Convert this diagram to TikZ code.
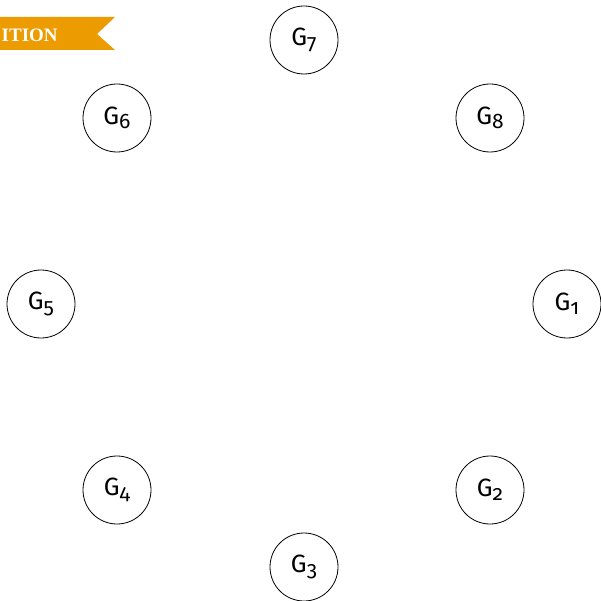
\documentclass[tikz,border=0pt]{standalone}
\usepackage{fontspec}
\setmainfont{Fira Sans}[Numbers=OldStyle]
\newfontfamily\bannerfont{Liberation Serif}
\definecolor{bannerorange}{RGB}{236,155,0}
\begin{document}
\begin{tikzpicture}[x=1pt,y=-1pt,
  gnode/.style={circle,draw=black,line width=0.8pt,minimum size=68pt,inner sep=0pt,font=\fontsize{25}{25}\selectfont},
  bannertext/.style={text=white,font=\bannerfont\bfseries\fontsize{19}{19}\selectfont,inner sep=0pt,anchor=base west}]
\useasboundingbox (0,0) rectangle (600,601);
\newcommand{\gsub}[1]{G{\fontsize{21}{21}\selectfont\raisebox{-4pt}{#1}}}
\fill[bannerorange] (0,17) -- (115,17) -- (97,34) -- (115,50) -- (0,50) -- cycle;
\node[bannertext] (banner) at (1.5,42) {ITION};
\node[gnode] (g1) at (567,304) {\gsub{1}};
\node[gnode] (g2) at (490,490) {\gsub{2}};
\node[gnode] (g3) at (304,567) {\gsub{3}};
\node[gnode] (g4) at (117,490) {\gsub{4}};
\node[gnode] (g5) at (41,304) {\gsub{5}};
\node[gnode] (g6) at (117,118) {\gsub{6}};
\node[gnode] (g7) at (304,40) {\gsub{7}};
\node[gnode] (g8) at (490,118) {\gsub{8}};
\end{tikzpicture}
\end{document}
